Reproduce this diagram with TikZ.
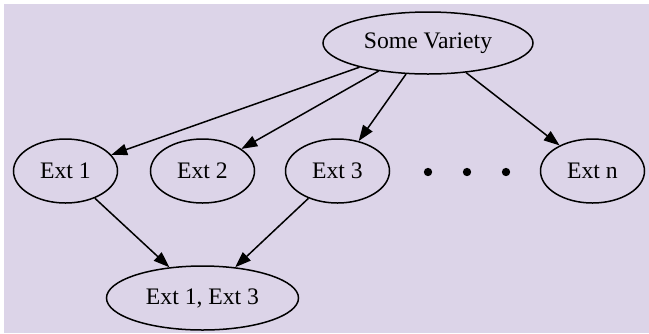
\documentclass[tikz,border=0pt]{standalone}
\usepackage{fontspec}
\setmainfont{Liberation Serif}
\usetikzlibrary{shapes.geometric,arrows.meta}
\definecolor{bgviolet}{RGB}{220,212,232}
\begin{document}
\begin{tikzpicture}[x=0.6pt,y=-0.6pt,
    ext/.style={draw,ellipse,line width=0.9pt,inner sep=0pt,
      minimum width=62.4pt,minimum height=38.4pt,
      font=\fontsize{14.2}{16}\selectfont},
    arw/.style={line width=0.9pt,-{Triangle[length=9.5pt,width=6.8pt]}},
    dotmark/.style={circle,fill,inner sep=0pt,minimum size=5pt}]
  \useasboundingbox (0,0) rectangle (649,333);
  \fill[bgviolet] (4,4) rectangle (649,333);
  \node[ext,minimum width=126pt,minimum height=37.2pt] (Variety) at (428,43) {Some Variety};
  \node[ext] (Ext1) at (65.5,171) {Ext 1};
  \node[ext] (Ext2) at (202.5,171) {Ext 2};
  \node[ext] (Ext3) at (337.5,171) {Ext 3};
  \node[ext] (Extn) at (592.5,171) {Ext n};
  \node[ext,minimum width=115.2pt] (Ext13) at (202.5,298) {Ext 1, Ext 3};
  \foreach \i/\x in {1/428,2/467,3/506}
    \node[dotmark] (dot\i) at (\x,172) {};
  \draw[arw] (Variety) -- (Ext1);
  \draw[arw] (Variety) -- (Ext2);
  \draw[arw] (Variety) -- (Ext3);
  \draw[arw] (Variety) -- (Extn);
  \draw[arw] (Ext1) -- (Ext13);
  \draw[arw] (Ext3) -- (Ext13);
\end{tikzpicture}
\end{document}
